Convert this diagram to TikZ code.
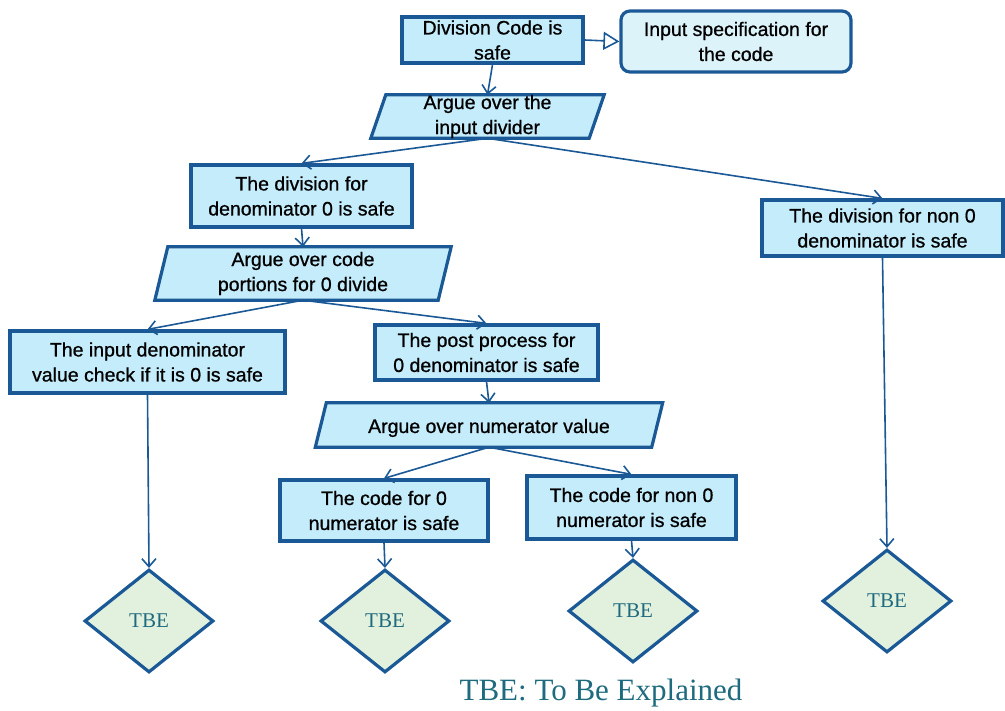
\documentclass[tikz,border=0pt]{standalone}
\usepackage{fontspec}
\setmainfont{Liberation Sans}
\newfontfamily\boxfont{Liberation Sans}[FakeBold=0.8]
\newfontfamily\noteserif{Liberation Serif}
\usetikzlibrary{shapes.geometric,arrows.meta,calc}
\definecolor{edgeblue}{HTML}{1A5896}
\definecolor{boxfill}{HTML}{C5ECFA}
\definecolor{specfill}{HTML}{DDF3FA}
\definecolor{tbefill}{HTML}{E2F1DE}
\definecolor{tbetext}{HTML}{1E6A7E}
\pgfdeclarelayer{background}
\pgfsetlayers{background,main}
\tikzset{
  boxtext/.style={align=center, inner sep=0pt,
    font=\boxfont\fontsize{19.5}{25}\selectfont,
    execute at begin node={\rule{0pt}{20pt}}},
  claim/.style={boxtext, draw=edgeblue, fill=boxfill, line width=3.2pt, rectangle},
  context/.style={claim, fill=specfill, rounded corners=9pt},
  strategy/.style={boxtext, rectangle},
  undev/.style={diamond, draw=edgeblue, fill=tbefill, line width=3.2pt, inner sep=0pt,
    minimum width=129pt, minimum height=103pt, text=tbetext,
    font=\noteserif\fontsize{21}{22}\selectfont},
  link/.style={draw=edgeblue, line width=1.6pt, -{Straight Barb[length=8pt,width=14pt,line width=1.6pt]}},
  ctxlink/.style={draw=edgeblue, line width=1.6pt, -{Triangle[open,length=16pt,width=18pt,line width=1.6pt,fill=white]}},
}
% parallelogram outline behind a strategy node: #1 node, #2 slant
\newcommand{\slantbox}[2]{%
  \begin{pgfonlayer}{background}
    \draw[draw=edgeblue, fill=boxfill, line width=3.2pt, line join=miter]
      ($(#1.north west)+(#2/2,0)$) -- ($(#1.north east)+(#2/2,0)$) --
      ($(#1.south east)-(#2/2,0)$) -- ($(#1.south west)-(#2/2,0)$) -- cycle;
  \end{pgfonlayer}}
\begin{document}
\begin{tikzpicture}[x=1pt,y=-1pt]
\useasboundingbox (0,0) rectangle (1005,711);

% goals
\node[claim, minimum width=181pt, minimum height=46pt] (top) at (492.5,40) {Division Code is\\safe};
\node[context, minimum width=230pt, minimum height=61pt] (spec) at (736,41.5) {Input specification for\\the code};

\node[strategy, minimum width=218pt, minimum height=43pt] (s1) at (487.5,116.5) {Argue over the\\input divider};
\slantbox{s1}{15}

\node[claim, minimum width=221pt, minimum height=62pt] (zero) at (301.5,196) {The division for\\denominator 0 is safe};
\node[claim, minimum width=241pt, minimum height=56pt] (nonzero) at (882.5,228) {The division for non 0\\denominator is safe};

\node[strategy, minimum width=283pt, minimum height=53pt] (s2) at (303,273.5) {Argue over code\\portions for 0 divide};
\slantbox{s2}{13}

\node[claim, minimum width=275pt, minimum height=62pt] (check) at (147.5,362) {The input denominator\\value check if it is 0 is safe};
\node[claim, minimum width=223pt, minimum height=55pt] (post) at (486.5,352.5) {The post process for\\0 denominator is safe};

\node[strategy, minimum width=336pt, minimum height=44pt] (s3) at (489,425) {Argue over numerator value};
\slantbox{s3}{11}

\node[claim, minimum width=208pt, minimum height=61pt] (num0) at (384,510.5) {The code for 0\\numerator is safe};
\node[claim, minimum width=209pt, minimum height=63pt] (numn) at (631.5,507.5) {The code for non 0\\numerator is safe};

% undeveloped
\node[undev] (t1) at (149,621) {TBE};
\node[undev] (t2) at (385,621) {TBE};
\node[undev] (t3) at (633,611) {TBE};
\node[undev] (t4) at (887,601) {TBE};

\node[text=tbetext, font=\noteserif\fontsize{31}{34}\selectfont] (legend) at (601,693) {TBE: To Be Explained};

% connectors
\draw[ctxlink] (top.east) -- (spec.west);
\draw[link] (top.south) -- (s1.north);
\draw[link] (s1.south) -- (zero.north);
\draw[link] (s1.south) -- (nonzero.north);
\draw[link] (zero.south) -- (s2.north);
\draw[link] (s2.south) -- (check.north);
\draw[link] (s2.south) -- (post.north);
\draw[link] (post.south) -- (s3.north);
\draw[link] (s3.south) -- (num0.north);
\draw[link] (s3.south) -- (numn.north);
\draw[link] (check.south) -- (t1.north);
\draw[link] (num0.south) -- (t2.north);
\draw[link] (numn.south) -- (t3.north);
\draw[link] (nonzero.south) -- (t4.north);
\end{tikzpicture}
\end{document}
